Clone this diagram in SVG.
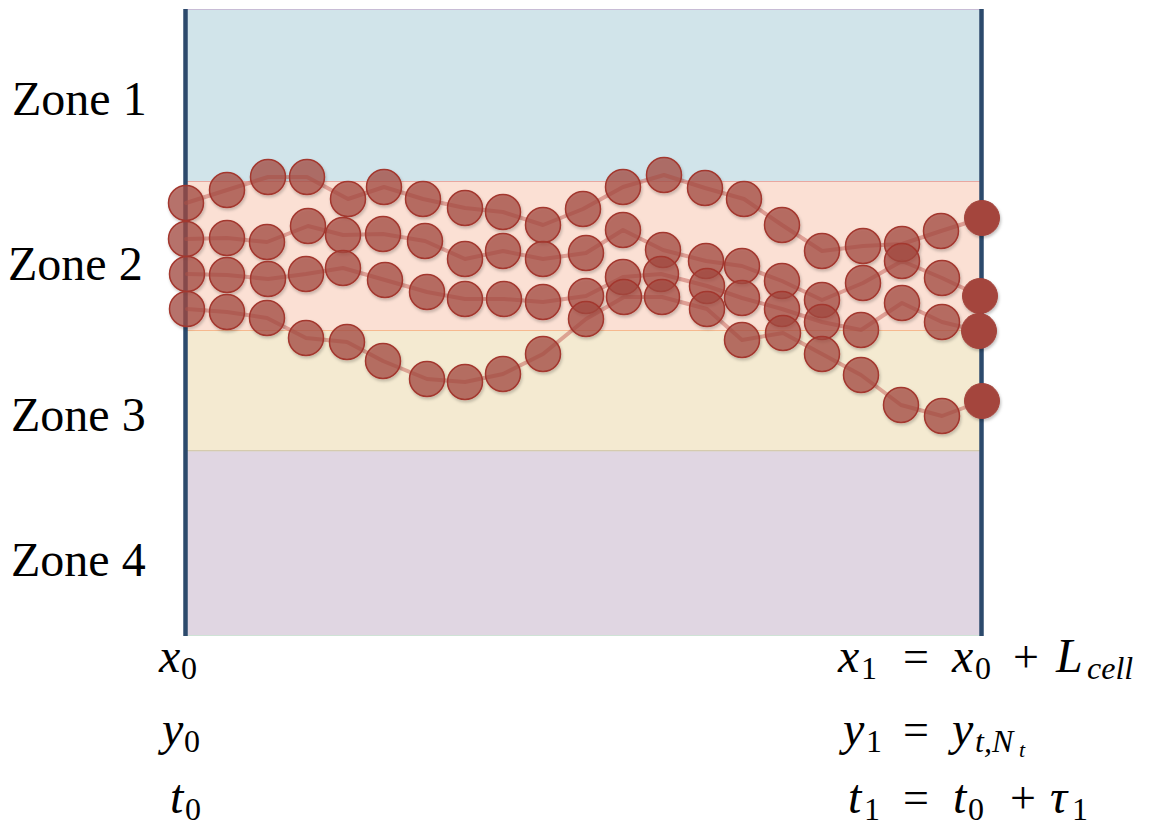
<svg xmlns="http://www.w3.org/2000/svg" width="1158" height="825" viewBox="0 0 1158 825">
<style>
.zl{font-family:"Liberation Serif","DejaVu Serif",serif;font-size:48px;fill:#000}
.m{font-family:"Liberation Serif","DejaVu Serif",serif;font-size:48px;fill:#000;font-style:italic}
.r{font-family:"Liberation Serif","DejaVu Serif",serif;font-size:46px;fill:#000}
.s{font-family:"Liberation Serif","DejaVu Serif",serif;font-size:32px;fill:#000}
.si{font-family:"Liberation Serif","DejaVu Serif",serif;font-size:32px;fill:#000;font-style:italic}
.ssi{font-family:"Liberation Serif","DejaVu Serif",serif;font-size:22px;fill:#000;font-style:italic}
.trail{fill:none;stroke:#c9675f;stroke-opacity:0.55;stroke-width:4;stroke-linejoin:round;stroke-linecap:round}
.p{fill:#a64b43;fill-opacity:0.72;stroke:#a3372f;stroke-width:1.5;filter:url(#sh)}
.f{fill:#a4443c;stroke:#a4443c;stroke-width:1;filter:url(#sh)}
.wall{stroke:#2c4a6c;stroke-width:4.5}
</style>
<defs>
<filter id="sh" x="-30%" y="-30%" width="160%" height="160%">
<feDropShadow dx="1" dy="2" stdDeviation="1.5" flood-color="#000" flood-opacity="0.25"/>
</filter>
</defs>
<g id="zones">
<rect x="186" y="9.5" width="796" height="172" fill="#d1e4ea" stroke="#c8bcd6" stroke-width="1"/>
<rect x="186" y="181.5" width="796" height="149" fill="#fbe0d4" stroke="#e8a7a0" stroke-width="1"/>
<line x1="186" y1="330.5" x2="982" y2="330.5" stroke="#f6b98f" stroke-width="1.2"/>
<rect x="186" y="331" width="796" height="120" fill="#f4ead1"/>
<line x1="186" y1="451" x2="982" y2="451" stroke="#b6ab8c" stroke-width="1.2"/>
<rect x="186" y="451.5" width="796" height="184" fill="#e0d6e2"/>
<line x1="186" y1="635.5" x2="982" y2="635.5" stroke="#cfe3d6" stroke-width="1.2"/>
</g>
<g id="walls">
<line class="wall" x1="185.5" y1="9" x2="185.5" y2="636"/>
<line class="wall" x1="981.5" y1="9" x2="981.5" y2="636"/>
</g>
<g id="zone-labels">
<text class="zl" x="12" y="115">Zone 1</text>
<text class="zl" x="8" y="280">Zone 2</text>
<text class="zl" x="11" y="431">Zone 3</text>
<text class="zl" x="11" y="576">Zone 4</text>
</g>
<g id="connectors">
<polyline class="trail" points="186,203 227,190 268,177 307,177 348,199 384,187 423,199 465,208 503,212 543,225 583,209 623,187 664,175 705,188 744,199 782,225 822,251 863,246 902,244 941,231 982,218"/>
<polyline class="trail" points="186,239 227,238 267,242 308,226 343,235 383,234 425,241 465,259 503,251 543,259 586,253 623,230 663,250 706,261 742,266 782,281 822,300 863,283 902,261 942,278 980,296"/>
<polyline class="trail" points="187,274 227,275 268,279 306,274 343,268 385,280 427,292 465,299 504,299 543,302 586,296 623,277 661,274 707,286 742,298 782,309 822,322 861,330 902,303 942,322 979,331"/>
<polyline class="trail" points="187,309 227,312 267,318 306,338 347,342 383,361 427,379 465,382 503,374 543,354 586,319 624,297 662,297 707,309 742,340 783,333 822,354 861,375 901,405 942,416 982,401"/>
</g>
<g id="trajectory-1">
<circle class="p" cx="186" cy="203" r="17.5"/><circle class="p" cx="227" cy="190" r="17.5"/><circle class="p" cx="268" cy="177" r="17.5"/><circle class="p" cx="307" cy="177" r="17.5"/><circle class="p" cx="348" cy="199" r="17.5"/><circle class="p" cx="384" cy="187" r="17.5"/><circle class="p" cx="423" cy="199" r="17.5"/><circle class="p" cx="465" cy="208" r="17.5"/><circle class="p" cx="503" cy="212" r="17.5"/><circle class="p" cx="543" cy="225" r="17.5"/><circle class="p" cx="583" cy="209" r="17.5"/><circle class="p" cx="623" cy="187" r="17.5"/><circle class="p" cx="664" cy="175" r="17.5"/><circle class="p" cx="705" cy="188" r="17.5"/><circle class="p" cx="744" cy="199" r="17.5"/><circle class="p" cx="782" cy="225" r="17.5"/><circle class="p" cx="822" cy="251" r="17.5"/><circle class="p" cx="863" cy="246" r="17.5"/><circle class="p" cx="902" cy="244" r="17.5"/><circle class="p" cx="941" cy="231" r="17.5"/>
<circle class="f" cx="982" cy="218" r="17.5"/>
</g>
<g id="trajectory-2">
<circle class="p" cx="186" cy="239" r="17.5"/><circle class="p" cx="227" cy="238" r="17.5"/><circle class="p" cx="267" cy="242" r="17.5"/><circle class="p" cx="308" cy="226" r="17.5"/><circle class="p" cx="343" cy="235" r="17.5"/><circle class="p" cx="383" cy="234" r="17.5"/><circle class="p" cx="425" cy="241" r="17.5"/><circle class="p" cx="465" cy="259" r="17.5"/><circle class="p" cx="503" cy="251" r="17.5"/><circle class="p" cx="543" cy="259" r="17.5"/><circle class="p" cx="586" cy="253" r="17.5"/><circle class="p" cx="623" cy="230" r="17.5"/><circle class="p" cx="663" cy="250" r="17.5"/><circle class="p" cx="706" cy="261" r="17.5"/><circle class="p" cx="742" cy="266" r="17.5"/><circle class="p" cx="782" cy="281" r="17.5"/><circle class="p" cx="822" cy="300" r="17.5"/><circle class="p" cx="863" cy="283" r="17.5"/><circle class="p" cx="902" cy="261" r="17.5"/><circle class="p" cx="942" cy="278" r="17.5"/>
<circle class="f" cx="980" cy="296" r="17.5"/>
</g>
<g id="trajectory-3">
<circle class="p" cx="187" cy="274" r="17.5"/><circle class="p" cx="227" cy="275" r="17.5"/><circle class="p" cx="268" cy="279" r="17.5"/><circle class="p" cx="306" cy="274" r="17.5"/><circle class="p" cx="343" cy="268" r="17.5"/><circle class="p" cx="385" cy="280" r="17.5"/><circle class="p" cx="427" cy="292" r="17.5"/><circle class="p" cx="465" cy="299" r="17.5"/><circle class="p" cx="504" cy="299" r="17.5"/><circle class="p" cx="543" cy="302" r="17.5"/><circle class="p" cx="586" cy="296" r="17.5"/><circle class="p" cx="623" cy="277" r="17.5"/><circle class="p" cx="661" cy="274" r="17.5"/><circle class="p" cx="707" cy="286" r="17.5"/><circle class="p" cx="742" cy="298" r="17.5"/><circle class="p" cx="782" cy="309" r="17.5"/><circle class="p" cx="822" cy="322" r="17.5"/><circle class="p" cx="861" cy="330" r="17.5"/><circle class="p" cx="902" cy="303" r="17.5"/><circle class="p" cx="942" cy="322" r="17.5"/>
<circle class="f" cx="979" cy="331" r="17.5"/>
</g>
<g id="trajectory-4">
<circle class="p" cx="187" cy="309" r="17.5"/><circle class="p" cx="227" cy="312" r="17.5"/><circle class="p" cx="267" cy="318" r="17.5"/><circle class="p" cx="306" cy="338" r="17.5"/><circle class="p" cx="347" cy="342" r="17.5"/><circle class="p" cx="383" cy="361" r="17.5"/><circle class="p" cx="427" cy="379" r="17.5"/><circle class="p" cx="465" cy="382" r="17.5"/><circle class="p" cx="503" cy="374" r="17.5"/><circle class="p" cx="543" cy="354" r="17.5"/><circle class="p" cx="586" cy="319" r="17.5"/><circle class="p" cx="624" cy="297" r="17.5"/><circle class="p" cx="662" cy="297" r="17.5"/><circle class="p" cx="707" cy="309" r="17.5"/><circle class="p" cx="742" cy="340" r="17.5"/><circle class="p" cx="783" cy="333" r="17.5"/><circle class="p" cx="822" cy="354" r="17.5"/><circle class="p" cx="861" cy="375" r="17.5"/><circle class="p" cx="901" cy="405" r="17.5"/><circle class="p" cx="942" cy="416" r="17.5"/>
<circle class="f" cx="982" cy="401" r="17.5"/>
</g>
<g id="left-labels">
<text class="m" x="159" y="672">x</text><text class="s" x="181" y="679">0</text>
<text class="m" x="162" y="745">y</text><text class="s" x="184" y="752">0</text>
<text class="m" x="170" y="813">t</text><text class="s" x="185" y="820">0</text>
</g>
<g id="right-labels">
<text class="m" x="838" y="672">x</text><text class="s" x="861" y="679">1</text>
<text class="r" x="903" y="672">=</text>
<text class="m" x="952" y="672">x</text><text class="s" x="975" y="679">0</text>
<text class="r" x="1013" y="672">+</text>
<text class="m" x="1056" y="672">L</text><text class="si" x="1087" y="679">cell</text>
<text class="m" x="843" y="745">y</text><text class="s" x="866" y="752">1</text>
<text class="r" x="903" y="745">=</text>
<text class="m" x="952" y="745">y</text><text class="si" x="975" y="752">t,N</text><text class="ssi" x="1019" y="757">t</text>
<text class="m" x="848" y="813">t</text><text class="s" x="864" y="820">1</text>
<text class="r" x="903" y="813">=</text>
<text class="m" x="953" y="813">t</text><text class="s" x="968" y="820">0</text>
<text class="r" x="1010" y="813">+</text>
<text class="m" x="1050" y="813">τ</text><text class="s" x="1072" y="820">1</text>
</g>
</svg>
